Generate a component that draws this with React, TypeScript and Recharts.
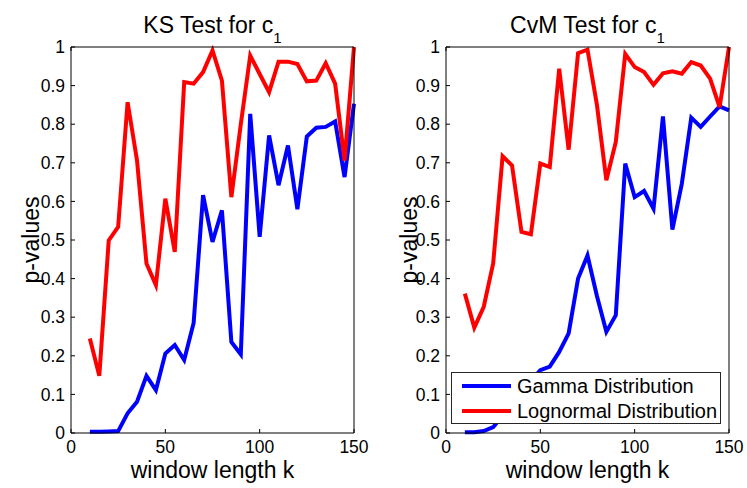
import React from 'react';
import { LineChart, Line, XAxis, YAxis, Legend } from 'recharts';

// window length k (x values shared by both panels)
const windowLength = [10, 15, 20, 25, 30, 35, 40, 45, 50, 55, 60, 65, 70, 75, 80, 85, 90, 95, 100, 105, 110, 115, 120, 125, 130, 135, 140, 145, 150];

// KS test p-values
const ksGamma = [0.003, 0.003, 0.004, 0.005, 0.051, 0.081, 0.148, 0.111, 0.206, 0.228, 0.189, 0.285, 0.616, 0.495, 0.577, 0.236, 0.204, 0.827, 0.508, 0.771, 0.642, 0.745, 0.58, 0.768, 0.791, 0.793, 0.807, 0.663, 0.853];
const ksLognormal = [0.245, 0.148, 0.499, 0.534, 0.857, 0.706, 0.439, 0.383, 0.607, 0.469, 0.909, 0.905, 0.935, 0.991, 0.913, 0.611, 0.8, 0.978, 0.93, 0.883, 0.962, 0.962, 0.956, 0.911, 0.913, 0.958, 0.905, 0.706, 1.0];

// CvM test p-values
const cvmGamma = [0.002, 0.002, 0.005, 0.015, 0.045, 0.075, 0.105, 0.135, 0.163, 0.172, 0.21, 0.258, 0.4, 0.46, 0.355, 0.262, 0.305, 0.698, 0.611, 0.627, 0.581, 0.82, 0.527, 0.646, 0.817, 0.793, 0.82, 0.846, 0.836];
const cvmLognormal = [0.361, 0.273, 0.327, 0.439, 0.717, 0.693, 0.521, 0.515, 0.698, 0.689, 0.944, 0.734, 0.984, 0.993, 0.85, 0.655, 0.754, 0.982, 0.948, 0.935, 0.902, 0.932, 0.937, 0.931, 0.961, 0.952, 0.918, 0.844, 1.0];

const xTicks = [0, 50, 100, 150];
const yTicks = [0, 0.1, 0.2, 0.3, 0.4, 0.5, 0.6, 0.7, 0.8, 0.9, 1];

const FONT = '"Liberation Sans", Arial, Helvetica, sans-serif';
const HEIGHT = 488;
const TOP = 47;
const XAXIS_H = 55;

const LegendBox = ({ payload }: any) => (
  <div style={{ background: '#fff', border: '1px solid #262626', width: 270, height: 52, boxSizing: 'border-box', paddingTop: 1 }}>
    {(payload || []).map((p: any) => (
      <div key={p.value} style={{ display: 'flex', alignItems: 'center', height: 24.5 }}>
        <span style={{ display: 'inline-block', width: 49, height: 4, background: p.color, marginLeft: 10, marginRight: 6 }} />
        <span style={{ fontSize: 20, lineHeight: '24px', color: '#000' }}>{p.value}</span>
      </div>
    ))}
  </div>
);

interface PanelProps {
  title: string;
  gamma: number[];
  lognormal: number[];
  left: number;
  width: number;
  yAxisWidth: number;
  marginRight: number;
  ylabelX: number;
  showLegend?: boolean;
}

const Panel = ({ title, gamma, lognormal, left, width, yAxisWidth, marginRight, ylabelX, showLegend }: PanelProps) => {
  const data = windowLength.map((k, i) => ({ k, gamma: gamma[i], lognormal: lognormal[i] }));
  const plotW = width - yAxisWidth - marginRight;
  const cx = yAxisWidth + plotW / 2;
  const cy = TOP + (HEIGHT - TOP - XAXIS_H) / 2;
  const tickStyle = { fontSize: 17.5, fill: '#000', fontFamily: FONT };

  return (
    <div style={{ position: 'absolute', left, top: 0 }}>
      <LineChart width={width} height={HEIGHT} data={data} margin={{ top: TOP - 1, right: marginRight - 1, bottom: 0, left: 0 }}>
        <XAxis
          dataKey="k"
          type="number"
          domain={[0, 150]}
          ticks={xTicks}
          interval={0}
          height={XAXIS_H}
          tickSize={-4}
          tickMargin={12}
          stroke="#000"
          tick={tickStyle}
          label={{
            content: () => (
              <text x={cx} y={478} textAnchor="middle" fontSize={23} fontFamily={FONT} fill="#000">window length k</text>
            ),
          }}
        />
        <XAxis
          xAxisId="top"
          orientation="top"
          type="number"
          domain={[0, 150]}
          ticks={xTicks}
          interval={0}
          height={1}
          tickSize={-4}
          stroke="#000"
          tickFormatter={() => ''}
          label={{
            content: () => (
              <text x={cx} y={32.5} textAnchor="middle" fontSize={23} fontFamily={FONT} fill="#000">
                {title}
                <tspan fontSize={15} dy={10.5}>1</tspan>
              </text>
            ),
          }}
        />
        <YAxis
          type="number"
          domain={[0, 1]}
          ticks={yTicks}
          interval={0}
          width={yAxisWidth}
          tickSize={-4}
          tickMargin={10}
          stroke="#000"
          tick={tickStyle}
          tickFormatter={(v: number) => String(v)}
          label={{
            content: () => (
              <text
                x={ylabelX}
                y={cy}
                transform={`rotate(-90, ${ylabelX}, ${cy})`}
                textAnchor="middle"
                dominantBaseline="central"
                fontSize={23}
                fontFamily={FONT}
                fill="#000"
              >
                p-values
              </text>
            ),
          }}
        />
        <YAxis
          yAxisId="right"
          orientation="right"
          type="number"
          domain={[0, 1]}
          ticks={yTicks}
          interval={0}
          width={1}
          tickSize={-4}
          stroke="#000"
          tickFormatter={() => ''}
        />
        <Line type="linear" dataKey="gamma" name="Gamma Distribution" stroke="#0000ff" strokeWidth={4} dot={false} activeDot={false} isAnimationActive={false} />
        <Line type="linear" dataKey="lognormal" name="Lognormal Distribution" stroke="#ff0000" strokeWidth={4} dot={false} activeDot={false} isAnimationActive={false} />
        {showLegend && (
          <Legend
            layout="vertical"
            align="center"
            verticalAlign="middle"
            content={LegendBox}
            wrapperStyle={{ left: 71, top: 372, width: 270, height: 52 }}
          />
        )}
      </LineChart>
    </div>
  );
};

export default function App() {
  return (
    <div style={{ position: 'absolute', left: 0, top: 0, width: 747, height: 488, background: '#fff', fontFamily: FONT }}>
      <Panel title="KS Test for c" gamma={ksGamma} lognormal={ksLognormal} left={0} width={380} yAxisWidth={71} marginRight={26} ylabelX={31} />
      <Panel title="CvM Test for c" gamma={cvmGamma} lognormal={cvmLognormal} left={380} width={367} yAxisWidth={66} marginRight={18} ylabelX={29} showLegend />
    </div>
  );
}
